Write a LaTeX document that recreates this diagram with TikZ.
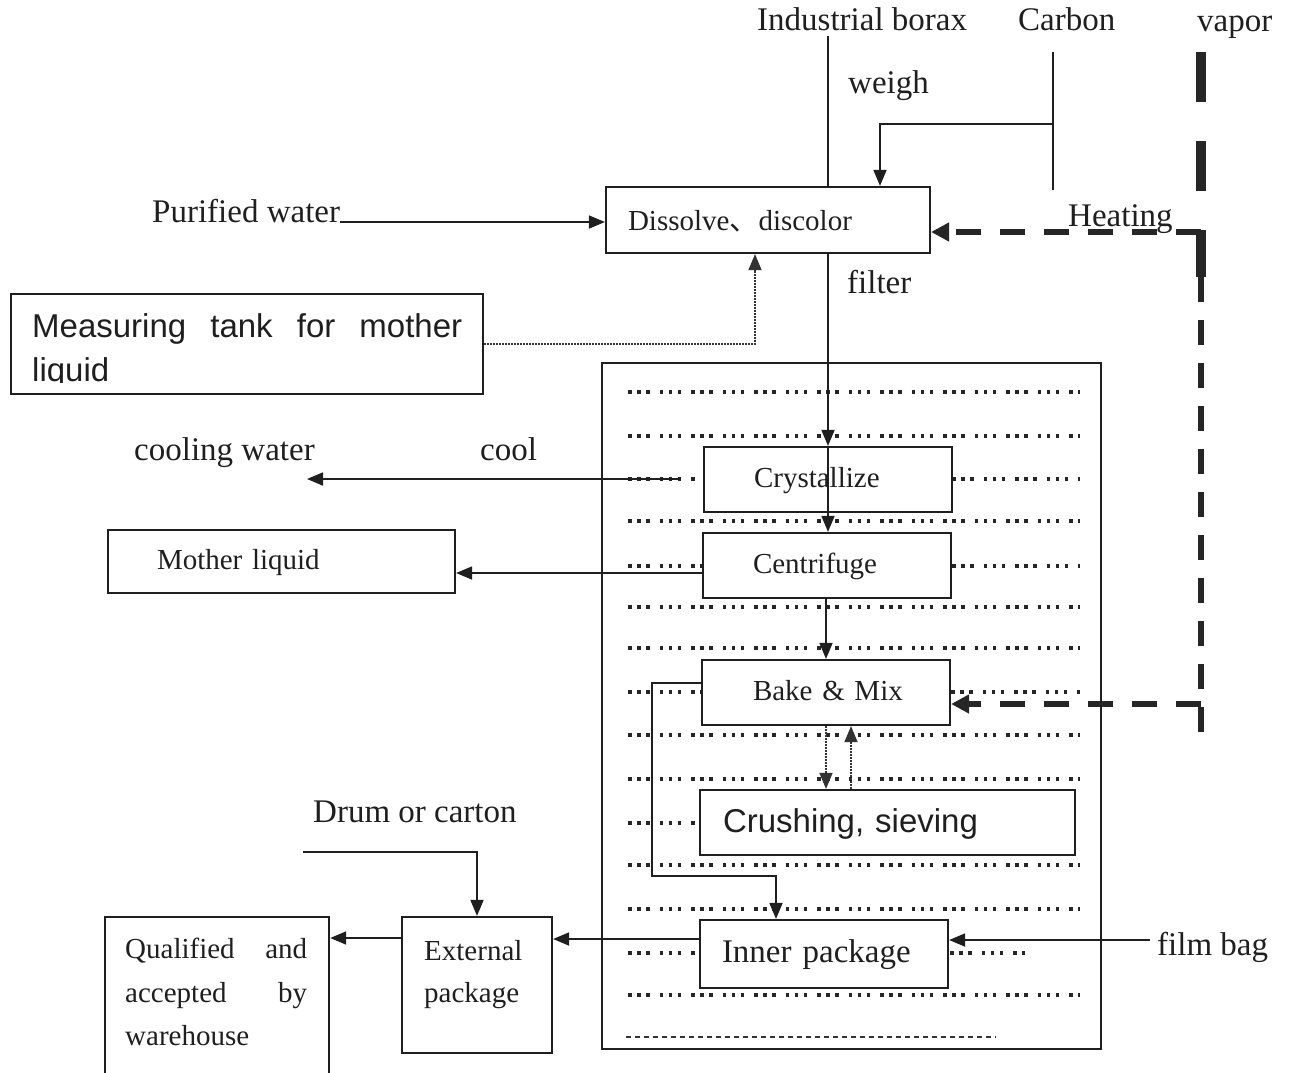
\documentclass[tikz,border=0pt]{standalone}
\usepackage{fontspec}
\setmainfont{Liberation Serif}
\newfontfamily\sansf{Liberation Sans}
\newfontfamily\cjkf{Noto Sans CJK SC}
\usetikzlibrary{arrows.meta}
\begin{document}
\begin{tikzpicture}[x=1pt,y=-1pt,
  box/.style={draw=black!88, line width=2.2pt, fill=white, inner ysep=0pt},
  big/.style={font=\fontsize{33}{43}\selectfont, text=black!88, inner sep=0pt},
  mid/.style={font=\fontsize{29}{43}\selectfont, text=black!88, text height=22pt, text depth=6pt, align=left},
  sans/.style={font=\sansf\fontsize{33}{44}\selectfont, text=black!88, inner sep=0pt},
  arr/.style={draw=black!88, line width=1.8pt, -{Triangle[length=16pt,width=13pt]}},
  ln/.style={draw=black!88, line width=1.8pt},
  dotarr/.style={draw=black!80, line width=1.4pt, dash pattern=on 1.5pt off 1.5pt, -{Triangle[length=16pt,width=13pt]}},
  row/.style={draw=black!85, line width=3.5pt, dash pattern=on 3.5pt off 5.5pt on 3.5pt off 5.5pt on 3.5pt off 10pt},
  finerow/.style={draw=black!80, line width=1.6pt, dash pattern=on 5pt off 4pt},
  heat/.style={draw=black!85, line width=6pt, dash pattern=on 25pt off 19pt, -{Triangle[length=18pt,width=18pt]}},
  vapthick/.style={draw=black!85, line width=10pt, dash pattern=on 50pt off 39pt},
  vapthin/.style={draw=black!85, line width=6pt, dash pattern=on 25pt off 18pt}
]
\useasboundingbox (0,0) rectangle (1290,1072);

% container
\node[box, fill=none, line width=2pt, minimum width=499pt, minimum height=686pt, anchor=north west, inner sep=0pt] (cont) at (601,362) {};

% dotted rows
\foreach \yy in {392,436,521,607,648,735,779,865,909,995}
  \draw[row] (628,\yy) -- (1080,\yy);
\draw[row] (628,479) -- (700,479);
\draw[row] (952,479) -- (1080,479);
\draw[row] (628,566) -- (702,566);
\draw[row] (952,566) -- (1080,566);
\draw[row] (628,692) -- (701,692);
\draw[row] (951,692) -- (1080,692);
\draw[row] (628,823) -- (700,823);
\draw[row] (628,953) -- (698,953);
\draw[row] (950,953) -- (1025,953);
\draw[finerow] (626,1037) -- (996,1037);

% boxes
\node[box, mid, minimum width=324pt, minimum height=66pt, text width=280pt, inner xsep=22pt, text height=24pt, text depth=4pt] (dis) at (768,220) {\hbox{Dissolve{\cjkf 、}discolor}};
\node[box, minimum width=472pt, minimum height=100pt, anchor=north west, inner sep=0pt] (meas) at (10,293) {};
\node[box, mid, minimum width=248pt, minimum height=65pt, text width=148pt, inner xsep=50pt] (cry) at (828,479.5) {\hbox{Crystallize}};
\node[box, mid, minimum width=248pt, minimum height=65pt, text width=148pt, inner xsep=50pt] (cen) at (827,565.5) {\hbox{Centrifuge}};
\node[box, mid, minimum width=248pt, minimum height=65pt, text width=146pt, inner xsep=51pt] (bake) at (826,692.5) {\hbox{Bake \& Mix}};
\node[box, font=\sansf\fontsize{33}{44}\selectfont, text=black!88, align=left, minimum width=375pt, minimum height=65pt, text width=329pt, inner xsep=23pt, text height=24pt, text depth=4pt] (crush) at (887.5,822.5) {\hbox{Crushing, sieving}};
\node[box, font=\fontsize{33}{43}\selectfont, text=black!88, align=left, minimum width=248pt, minimum height=68pt, text width=204pt, inner xsep=22pt, text height=24pt, text depth=8pt] (inner) at (824,954) {\hbox{Inner package}};
\node[box, mid, minimum width=347pt, minimum height=63pt, text width=249pt, inner xsep=49pt] (ml) at (281.5,561.5) {\hbox{Mother liquid}};
\node[box, minimum width=150pt, minimum height=136pt, inner sep=0pt] (ext) at (477,985) {};
\node[box, minimum width=224pt, minimum height=170pt, anchor=north west, inner sep=0pt] (qa) at (104,916) {};

% texts
\node[big, anchor=base west] (tib) at (757,30) {Industrial borax};
\node[big, anchor=base west] (tcb) at (1018,30) {Carbon};
\node[big, anchor=base west] (tvp) at (1197,31) {vapor};
\node[big, anchor=base west] (twg) at (848,93) {weigh};
\node[big, anchor=base west] (tft) at (847,293) {filter};
\node[big, anchor=base west] (tht) at (1068,226) {Heating};
\node[big, anchor=base west] (tpw) at (152,222) {Purified water};
\node[big, anchor=base west] (tcw) at (134,460) {cooling water};
\node[big, anchor=base west] (tco) at (480,460) {cool};
\node[big, anchor=base west] (tdc) at (313,822) {Drum or carton};
\node[big, anchor=base west] (tfb) at (1157,955) {film bag};
\begin{scope}
\clip (12,295) rectangle (480,382);
\node[sans, anchor=base west] (tm1) at (32,337) {\hbox to 430pt{Measuring\hfill tank\hfill for\hfill mother}};
\node[sans, anchor=base west] (tm2) at (32,381) {liquid};
\end{scope}
\node[mid, inner sep=0pt, anchor=base west, text height=, text depth=] (tq1) at (125,958) {\hbox to 182pt{Qualified\hfill and}};
\node[mid, inner sep=0pt, anchor=base west, text height=, text depth=] (tq2) at (125,1002) {\hbox to 182pt{accepted\hfill by}};
\node[mid, inner sep=0pt, anchor=base west, text height=, text depth=] (tq3) at (125,1045) {warehouse};
\node[mid, inner sep=0pt, anchor=base west, text height=, text depth=] (te1) at (424,960) {External};
\node[mid, inner sep=0pt, anchor=base west, text height=, text depth=] (te2) at (424,1002) {package};

% coordinates for free ends
\coordinate (ibtop) at (828,36);
\coordinate (ct) at (1053,52);
\coordinate (cbot) at (1053,190);
\coordinate (cbr) at (1053,124);
\coordinate (v0) at (1201,52);
\coordinate (v1) at (1201,277);
\coordinate (v2) at (1201,733);
\coordinate (vh) at (1201,232);
\coordinate (vb) at (1201,704);
\coordinate (cs) at (681,479);
\coordinate (cwend) at (307,479);
\coordinate (dr) at (303,852);
\coordinate (fbs) at (1150,940);

% connectors
\draw[ln] (ibtop) -- (ibtop |- dis.north);
\draw[ln] (ct) -- (cbot);
\draw[arr] (cbr) -| ([xshift=112pt]dis.north);
\draw[arr] (tpw.base east) -- (dis.west |- tpw.base east);
\draw[dotarr] (meas.east) -| ([xshift=-13pt]dis.south);
\draw[arr] (ibtop |- dis.south) -- (ibtop |- cry.north);
\draw[arr] (ibtop |- cry.north) -- (ibtop |- cen.north);
\draw[arr] (cen.south -| bake.north) -- (bake.north);
\draw[arr] (cs) -- (cwend);
\draw[arr] ([yshift=-7.5pt]cen.west) -- ([yshift=-7.5pt]cen.west -| ml.east);
\draw[dotarr] (bake.south) -- (bake.south |- crush.north);
\draw[dotarr] ([xshift=25pt]bake.south |- crush.north) -- ([xshift=25pt]bake.south);
\draw[arr] ([yshift=9.5pt]bake.west) -- (652,683) -- (652,876) -- (776,876) -- ([xshift=-48pt]inner.north);
\draw[arr] ([yshift=15pt]inner.west) -- ([yshift=15pt]inner.west -| ext.east);
\draw[arr] ([yshift=47pt]ext.west) -- ([yshift=47pt]ext.west -| qa.east);
\draw[arr] (dr) -| (ext.north);
\draw[arr] (fbs) -- (fbs -| inner.east);

% vapor / heating
\draw[vapthick] (v0) -- (v1);
\draw[vapthin] (v1) -- (v2);
\draw[heat] (vh) -- (vh -| dis.east);
\draw[heat] (vb) -- (vb -| bake.east);
\end{tikzpicture}
\end{document}
